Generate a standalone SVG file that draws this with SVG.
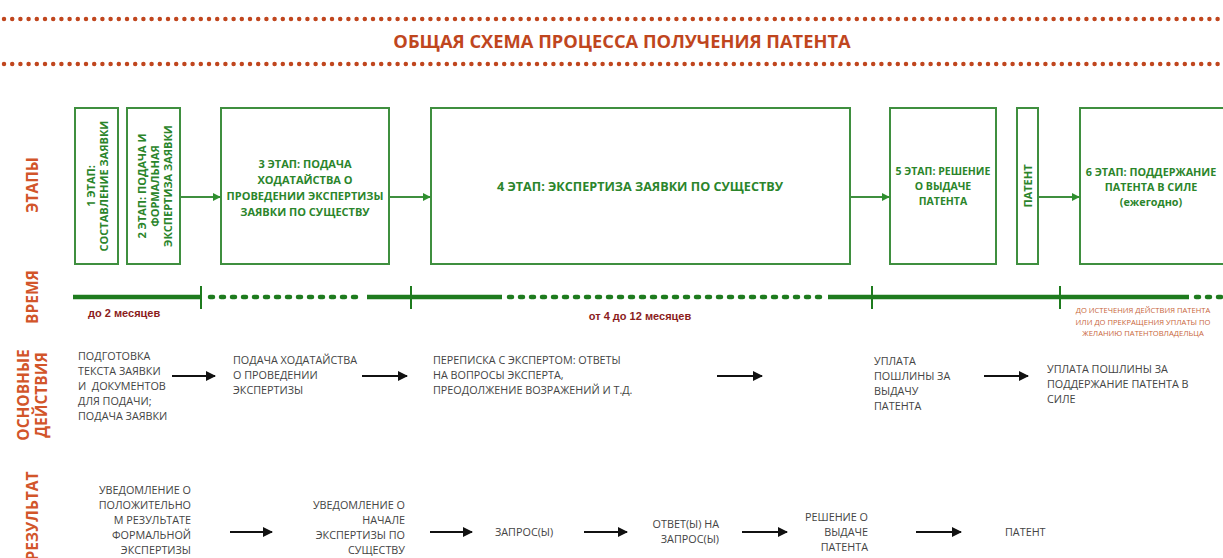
<svg xmlns="http://www.w3.org/2000/svg" width="1223" height="558" viewBox="0 0 1223 558">
<style>
.bg{fill:#ffffff}
.dots{stroke:#c0461e;stroke-width:4.5;stroke-linecap:round;stroke-dasharray:0 8.2;fill:none}
.title{font-family:"Open Sans","Liberation Sans",sans-serif;font-weight:700;font-size:18.3px;fill:#c0461e;text-anchor:middle}
.side{font-family:"Open Sans","Liberation Sans",sans-serif;font-weight:700;font-size:15.5px;fill:#d2552a;text-anchor:middle;dominant-baseline:central}
.box{fill:#ffffff;stroke:#3f8f3f;stroke-width:2}
.bt{font-family:"Open Sans","Liberation Sans",sans-serif;font-weight:700;font-size:11px;fill:#2b852b;text-anchor:middle;dominant-baseline:central}
.garrow{stroke:#3f8f3f;stroke-width:1.8;fill:none}
.tl{stroke:#1e7b1e;stroke-width:4.5;fill:none}
.tld{stroke:#1e7b1e;stroke-width:4.5;fill:none;stroke-dasharray:3 8;stroke-linecap:round}
.tick{stroke:#1e7b1e;stroke-width:2}
.tlab{font-family:"Liberation Sans",Arial,sans-serif;font-weight:700;font-size:11px;fill:#8b1c1c}
.small{font-family:"Open Sans","Liberation Sans",sans-serif;font-size:7.6px;fill:#c8663a;text-anchor:middle}
.at{font-family:"Open Sans","Liberation Sans",sans-serif;font-size:10.8px;fill:#444444;white-space:pre}
.rt{font-family:"Open Sans","Liberation Sans",sans-serif;font-size:10.8px;fill:#444444;text-anchor:end}
.barrow{stroke:#111111;stroke-width:2;fill:none}
</style>
<defs>
<marker id="gh" viewBox="0 0 10 10" refX="9" refY="5" markerWidth="8" markerHeight="8" markerUnits="userSpaceOnUse" orient="auto"><path d="M0,0 L10,5 L0,10 z" fill="#2f8f2f"/></marker>
<marker id="bh" viewBox="0 0 10 10" refX="9" refY="5" markerWidth="10" markerHeight="10" markerUnits="userSpaceOnUse" orient="auto"><path d="M0,0 L10,5 L0,10 z" fill="#111111"/></marker>
</defs>
<rect class="bg" x="0" y="0" width="1223" height="558"/>

<g id="title">
<line class="dots" x1="4" y1="19" x2="1223" y2="19"/>
<text class="title" x="622" y="48">ОБЩАЯ СХЕМА ПРОЦЕССА ПОЛУЧЕНИЯ ПАТЕНТА</text>
<line class="dots" x1="4" y1="64" x2="1223" y2="64"/>
</g>

<g id="row-labels">
<text class="side" transform="translate(32,185) rotate(-90)">ЭТАПЫ</text>
<text class="side" transform="translate(32,297) rotate(-90)">ВРЕМЯ</text>
<text class="side" transform="translate(23,395) rotate(-90)">ОСНОВНЫЕ</text>
<text class="side" transform="translate(41,395) rotate(-90)">ДЕЙСТВИЯ</text>
<text class="side" transform="translate(32,516) rotate(-90)">РЕЗУЛЬТАТ</text>
</g>

<g id="stage1">
<rect class="box" x="75" y="108" width="43" height="156"/>
<text class="bt" transform="translate(96.5,186) rotate(-90)"><tspan x="0" y="-6.5">1 ЭТАП:</tspan><tspan x="0" y="6.5">СОСТАВЛЕНИЕ ЗАЯВКИ</tspan></text>
</g>
<g id="stage2">
<rect class="box" x="127" y="108" width="53" height="156"/>
<text class="bt" transform="translate(153.5,186) rotate(-90)"><tspan x="0" y="-13">2 ЭТАП: ПОДАЧА И</tspan><tspan x="0" y="0">ФОРМАЛЬНАЯ</tspan><tspan x="0" y="13">ЭКСПЕРТИЗА ЗАЯВКИ</tspan></text>
</g>
<g id="stage3">
<rect class="box" x="221" y="108" width="168" height="156"/>
<text class="bt" x="305"><tspan x="305" y="163">3 ЭТАП: ПОДАЧА</tspan><tspan x="305" y="179">ХОДАТАЙСТВА О</tspan><tspan x="305" y="195">ПРОВЕДЕНИИ ЭКСПЕРТИЗЫ</tspan><tspan x="305" y="211">ЗАЯВКИ ПО СУЩЕСТВУ</tspan></text>
</g>
<g id="stage4">
<rect class="box" x="431" y="108" width="419" height="156"/>
<text class="bt" x="640" y="186" style="font-size:12.6px">4 ЭТАП: ЭКСПЕРТИЗА ЗАЯВКИ ПО СУЩЕСТВУ</text>
</g>
<g id="stage5">
<rect class="box" x="890" y="108" width="106" height="156"/>
<text class="bt" style="font-size:10.5px"><tspan x="943" y="171">5 ЭТАП: РЕШЕНИЕ</tspan><tspan x="943" y="186">О ВЫДАЧЕ</tspan><tspan x="943" y="201">ПАТЕНТА</tspan></text>
</g>
<g id="patent">
<rect class="box" x="1017" y="108" width="21" height="156"/>
<text class="bt" transform="translate(1027.5,186) rotate(-90)">ПАТЕНТ</text>
</g>
<g id="stage6">
<rect class="box" x="1080" y="108" width="150" height="156"/>
<text class="bt" style="font-size:10.8px"><tspan x="1151" y="171">6 ЭТАП: ПОДДЕРЖАНИЕ</tspan><tspan x="1151" y="186">ПАТЕНТА В СИЛЕ</tspan><tspan x="1151" y="201">(ежегодно)</tspan></text>
</g>

<g id="connectors">
<line class="garrow" x1="180" y1="197" x2="220" y2="197" marker-end="url(#gh)"/>
<line class="garrow" x1="389" y1="197" x2="430" y2="197" marker-end="url(#gh)"/>
<line class="garrow" x1="850" y1="197" x2="889" y2="197" marker-end="url(#gh)"/>
<line class="garrow" x1="1038" y1="197" x2="1079" y2="197" marker-end="url(#gh)"/>

<line class="barrow" x1="172" y1="376" x2="215" y2="376" marker-end="url(#bh)"/>
<line class="barrow" x1="362" y1="376" x2="407" y2="376" marker-end="url(#bh)"/>
<line class="barrow" x1="717" y1="376" x2="762" y2="376" marker-end="url(#bh)"/>
<line class="barrow" x1="984" y1="376" x2="1028" y2="376" marker-end="url(#bh)"/>

<line class="barrow" x1="230" y1="532" x2="272" y2="532" marker-end="url(#bh)"/>
<line class="barrow" x1="430" y1="532" x2="472" y2="532" marker-end="url(#bh)"/>
<line class="barrow" x1="584" y1="532" x2="627" y2="532" marker-end="url(#bh)"/>
<line class="barrow" x1="742" y1="532" x2="787" y2="532" marker-end="url(#bh)"/>
<line class="barrow" x1="916" y1="532" x2="961" y2="532" marker-end="url(#bh)"/>
</g>

<g id="timeline">
<line class="tl" x1="73" y1="297" x2="201" y2="297"/>
<line class="tld" x1="210" y1="297" x2="364" y2="297"/>
<line class="tl" x1="367" y1="297" x2="502" y2="297"/>
<line class="tld" x1="509" y1="297" x2="825" y2="297"/>
<line class="tl" x1="828" y1="297" x2="1189" y2="297"/>
<line class="tld" x1="1196" y1="297" x2="1223" y2="297"/>
<line class="tick" x1="201" y1="286" x2="201" y2="309"/>
<line class="tick" x1="411" y1="286" x2="411" y2="309"/>
<line class="tick" x1="872" y1="286" x2="872" y2="309"/>
<line class="tick" x1="1060" y1="286" x2="1060" y2="309"/>
<text class="tlab" x="88" y="317">до 2 месяцев</text>
<text class="tlab" x="640" y="320" text-anchor="middle">от 4 до 12 месяцев</text>
<text class="small"><tspan x="1143" y="313">ДО ИСТЕЧЕНИЯ ДЕЙСТВИЯ ПАТЕНТА</tspan><tspan x="1143" y="324.5">ИЛИ ДО ПРЕКРАЩЕНИЯ УПЛАТЫ ПО</tspan><tspan x="1143" y="336">ЖЕЛАНИЮ ПАТЕНТОВЛАДЕЛЬЦА</tspan></text>
</g>

<g id="action1"><text class="at"><tspan x="78" y="360">ПОДГОТОВКА</tspan><tspan x="78" y="375">ТЕКСТА ЗАЯВКИ</tspan><tspan x="78" y="390">И&#160; ДОКУМЕНТОВ</tspan><tspan x="78" y="405">ДЛЯ ПОДАЧИ;</tspan><tspan x="78" y="420">ПОДАЧА ЗАЯВКИ</tspan></text></g>
<g id="action2"><text class="at"><tspan x="233" y="364">ПОДАЧА ХОДАТАЙСТВА</tspan><tspan x="233" y="379">О ПРОВЕДЕНИИ</tspan><tspan x="233" y="394">ЭКСПЕРТИЗЫ</tspan></text></g>
<g id="action3"><text class="at"><tspan x="433" y="364">ПЕРЕПИСКА С ЭКСПЕРТОМ: ОТВЕТЫ</tspan><tspan x="433" y="379">НА ВОПРОСЫ ЭКСПЕРТА,</tspan><tspan x="433" y="394">ПРЕОДОЛЖЕНИЕ ВОЗРАЖЕНИЙ И Т.Д.</tspan></text></g>
<g id="action4"><text class="at"><tspan x="874" y="365">УПЛАТА</tspan><tspan x="874" y="380">ПОШЛИНЫ ЗА</tspan><tspan x="874" y="395">ВЫДАЧУ</tspan><tspan x="874" y="410">ПАТЕНТА</tspan></text></g>
<g id="action5"><text class="at"><tspan x="1047" y="373">УПЛАТА ПОШЛИНЫ ЗА</tspan><tspan x="1047" y="388">ПОДДЕРЖАНИЕ ПАТЕНТА В</tspan><tspan x="1047" y="403">СИЛЕ</tspan></text></g>

<g id="result1"><text class="rt"><tspan x="191" y="494">УВЕДОМЛЕНИЕ О</tspan><tspan x="191" y="509">ПОЛОЖИТЕЛЬНО</tspan><tspan x="191" y="524">М РЕЗУЛЬТАТЕ</tspan><tspan x="191" y="539">ФОРМАЛЬНОЙ</tspan><tspan x="191" y="554">ЭКСПЕРТИЗЫ</tspan></text></g>
<g id="result2"><text class="rt"><tspan x="405" y="509">УВЕДОМЛЕНИЕ О</tspan><tspan x="405" y="524">НАЧАЛЕ</tspan><tspan x="405" y="539">ЭКСПЕРТИЗЫ ПО</tspan><tspan x="405" y="554">СУЩЕСТВУ</tspan></text></g>
<g id="result3"><text class="at" x="495" y="536">ЗАПРОС(Ы)</text></g>
<g id="result4"><text class="rt"><tspan x="719" y="528">ОТВЕТ(Ы) НА</tspan><tspan x="719" y="543">ЗАПРОС(Ы)</tspan></text></g>
<g id="result5"><text class="rt"><tspan x="868" y="521">РЕШЕНИЕ О</tspan><tspan x="868" y="536">ВЫДАЧЕ</tspan><tspan x="868" y="551">ПАТЕНТА</tspan></text></g>
<g id="result6"><text class="at" x="1005" y="536">ПАТЕНТ</text></g>
</svg>
